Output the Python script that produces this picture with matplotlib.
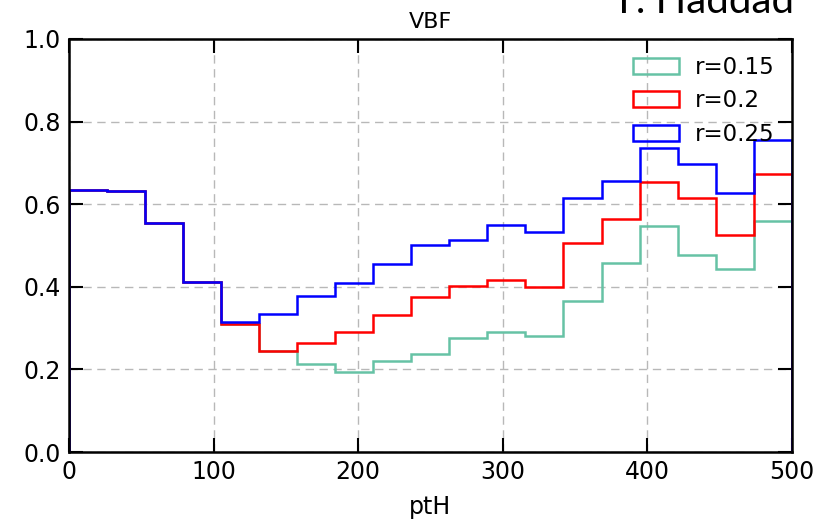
import numpy as np
import matplotlib
matplotlib.use("Agg")
import matplotlib.pyplot as plt

# 19 pt bins between 0 and 500
edges = np.linspace(0, 500, 20)
centers = 0.5 * (edges[:-1] + edges[1:])

r015 = [0.634, 0.632, 0.555, 0.411, 0.309, 0.245, 0.213, 0.194, 0.220, 0.237,
        0.277, 0.291, 0.282, 0.366, 0.458, 0.547, 0.477, 0.444, 0.559]
r020 = [0.634, 0.632, 0.555, 0.411, 0.309, 0.245, 0.263, 0.291, 0.331, 0.375,
        0.403, 0.416, 0.399, 0.505, 0.564, 0.653, 0.615, 0.525, 0.673]
r025 = [0.634, 0.632, 0.555, 0.411, 0.316, 0.334, 0.378, 0.408, 0.454, 0.500,
        0.513, 0.549, 0.533, 0.615, 0.655, 0.735, 0.698, 0.626, 0.755]

labels = ['r=0.15', 'r=0.2', 'r=0.25']
colors = ['#66c2a5', 'red', 'blue']

fig = plt.figure(figsize=(8.17, 5.19), dpi=100)
ax = fig.add_axes([0.0845, 0.129, 0.8845, 0.796])

for vals, lab, col in zip([r015, r020, r025], labels, colors):
    ax.hist(centers, bins=edges, weights=vals, histtype='step',
            color=col, lw=1.8, label=lab)

ax.set_xlim(0, 500)
ax.set_ylim(0, 1.0)
ax.set_xticks([0, 100, 200, 300, 400, 500])
ax.set_yticks([0.0, 0.2, 0.4, 0.6, 0.8, 1.0])
ax.tick_params(direction='in', length=10, width=1.5, labelsize=17,
               top=True, right=True, pad=6)
for s in ax.spines.values():
    s.set_linewidth(1.8)
ax.grid(True, ls=(0, (6, 4)), color='#b8b8b8', lw=1.0)
ax.set_axisbelow(True)

ax.set_xlabel('ptH', fontsize=17, labelpad=8)
ax.set_title('VBF', fontsize=16, pad=8)
ax.legend(loc='upper right', frameon=False, fontsize=16.5,
          handlelength=2.0, handletextpad=0.7, labelspacing=0.45,
          borderaxespad=0.35)

fig.text(0.972, 1 - 13.0 / 519, 'T. Haddad', ha='right', va='baseline',
         fontsize=29, color='black', family=['Lato', 'DejaVu Sans'])

fig.savefig('out.png', dpi=100)
